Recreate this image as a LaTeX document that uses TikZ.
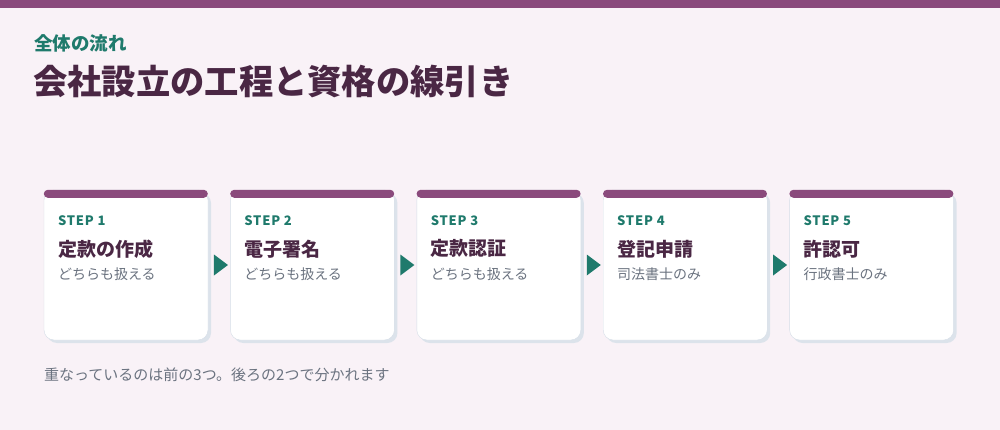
\documentclass[tikz,border=0pt]{standalone}
\usepackage{fontspec}
\setmainfont{Noto Sans CJK JP}
\usetikzlibrary{positioning, calc, shapes.geometric, shadows}

\definecolor{pagebg}{HTML}{F9F2F7}
\definecolor{plum}{HTML}{8A4A7C}
\definecolor{ink}{HTML}{4A2744}
\definecolor{teal}{HTML}{1F7A6C}
\definecolor{muted}{HTML}{6B7380}
\definecolor{edge}{HTML}{D5DDE7}
\definecolor{shade}{HTML}{DCE3EB}

\begin{document}
\begin{tikzpicture}[
                x = 1pt, y = -1pt, % pixel grid, y pointing down
                node distance = 22pt, % gap between cards
                card/.style = {draw = edge, fill = white, rounded corners = 10pt,
                    minimum width = 164pt, minimum height = 150pt, inner sep = 0pt,
                    drop shadow = {shadow xshift = 3pt, shadow yshift = -3pt,
                    fill = shade, opacity = 1}},
                steplbl/.style = {anchor = west, inner sep = 0pt, text = teal,
                    font = \fontsize{13}{13}\selectfont\bfseries\addfontfeatures{LetterSpace=6}},
                cardttl/.style = {anchor = west, inner sep = 0pt, text = ink,
                    font = \fontsize{19}{19}\selectfont\bfseries},
                cardsub/.style = {anchor = west, inner sep = 0pt, text = muted,
                    font = \fontsize{14}{14}\selectfont},
                arrowtri/.style = {isosceles triangle, isosceles triangle stretches,
                    fill = teal, minimum height = 14pt, minimum width = 21pt, inner sep = 0pt}
            ]

            % page and top band
            \fill[pagebg] (0,0) rectangle (1000,430);
            \fill[plum] (0,0) rectangle (1000,8);

            % headings
            \node (kicker) [anchor = west, inner sep = 0pt, text = teal,
                font = \fontsize{18.5}{18.5}\selectfont\bfseries] at (34,43) {全体の流れ};
            \node (title) [anchor = west, inner sep = 0pt, text = ink,
                font = \fontsize{34.3}{34.3}\selectfont\bfseries] at (33,82) {会社設立の工程と資格の線引き};

            % cards
            \node (c1) [card] at (126,265) {};
            \node (c2) [card, right = of c1] {};
            \node (c3) [card, right = of c2] {};
            \node (c4) [card, right = of c3] {};
            \node (c5) [card, right = of c4] {};

            \foreach \i/\ttl/\who in {1/定款の作成/どちらも扱える, 2/電子署名/どちらも扱える,
                3/定款認証/どちらも扱える, 4/登記申請/司法書士のみ, 5/許認可/行政書士のみ} {
                \fill[plum, rounded corners = 4pt] (c\i.north west) rectangle ++(164,8);
                \node (s\i) [steplbl] at ($(c\i.north west) + (14,31)$) {STEP \i};
                \node (t\i) [cardttl] at ($(c\i.north west) + (14,59)$) {\ttl};
                \node (w\i) [cardsub] at ($(c\i.north west) + (14,84)$) {\who};
            }

            % arrows between cards
            \foreach \i [evaluate = \i as \j using int(\i+1)] in {1,...,4}
                \node (a\i) [arrowtri] at ($(c\i.east)!0.5!(c\j.west)$) {};

            % note
            \node (note) [anchor = west, inner sep = 0pt, text = muted,
                font = \fontsize{15}{15}\selectfont] at (44,375) {重なっているのは前の3つ。後ろの2つで分かれます};

        \end{tikzpicture}
\end{document}
